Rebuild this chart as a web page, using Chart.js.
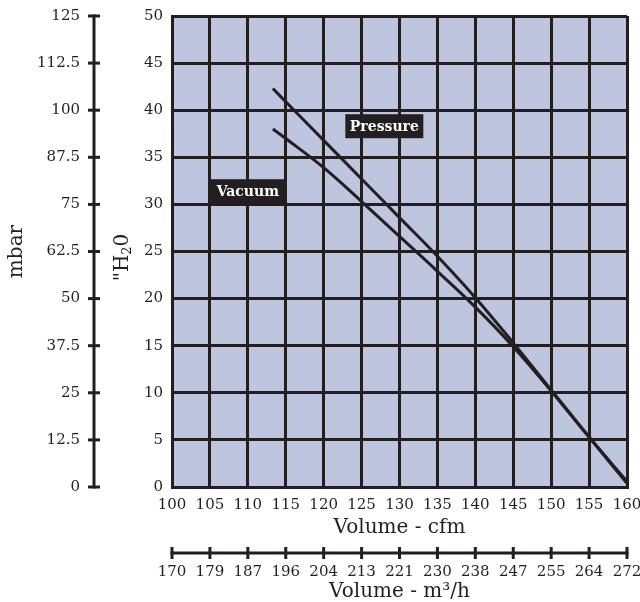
<!DOCTYPE html>
<html><head><meta charset="utf-8">
<script src="https://cdn.jsdelivr.net/npm/chart.js@4.4.1/dist/chart.umd.min.js"></script>
<style>html,body{margin:0;padding:0;background:#fff}canvas{display:block}</style>
</head><body>
<canvas id="c" width="640" height="602"></canvas>
<script>
// ---- data ----
const cfmPoints    = [113.3, 115, 120, 125, 130, 135, 140, 145, 150, 155, 160];
const pressureH2O  = [42.3, 40.9, 36.8, 32.7, 28.6, 24.5, 20.1, 15.3, 10.3, 5.3, 0.4];
const vacuumH2O    = [38.0, 37.0, 33.9, 30.3, 26.6, 22.9, 19.1, 14.9, 10.2, 5.3, 0.6];
const cfmRange     = [100, 160];
const cfmStep      = 5;
const h2oRange     = [0, 50];
const h2oStep      = 5;
const mbarRange    = [0, 125];
const mbarStep     = 12.5;
const m3hLabels    = ['170','179','187','196','204','213','221','230','238','247','255','264','272'];
const labelTexts   = ['Pressure', 'Vacuum'];
const labelCfm     = [128.0, 110.0];
const labelH2O     = [38.3, 31.4];

// ---- styling ----
const INK = '#231F20';
const PLOT_BG = '#BDC5DF';
const FONT = "'DejaVu Serif', serif";
Chart.defaults.color = INK;
Chart.defaults.font.family = FONT;

const pts = arr => cfmPoints.map((x, i) => ({x, y: arr[i]}));

const customPlugin = {
  id: 'custom',
  beforeDraw(chart) {
    const {ctx, chartArea: a} = chart;
    ctx.save();
    ctx.fillStyle = PLOT_BG;
    ctx.fillRect(a.left, a.top, a.right - a.left, a.bottom - a.top);
    ctx.restore();
  },
  afterDraw(chart) {
    const ctx = chart.ctx;
    const yM = chart.scales.yM, x2 = chart.scales.x2, y = chart.scales.y;
    ctx.save();
    ctx.strokeStyle = INK; ctx.lineWidth = 3; ctx.lineCap = 'butt';
    // mbar axis line + ticks
    const ax = yM.right - 6;
    ctx.beginPath();
    ctx.moveTo(ax, yM.getPixelForValue(mbarRange[1]) - 1.5);
    ctx.lineTo(ax, yM.getPixelForValue(mbarRange[0]) + 1.5);
    ctx.stroke();
    yM.ticks.forEach(t => {
      const py = yM.getPixelForValue(t.value);
      ctx.beginPath(); ctx.moveTo(ax - 6, py); ctx.lineTo(ax + 6, py); ctx.stroke();
    });
    // m3/h axis line + ticks
    const ay = x2.top + 14;
    ctx.beginPath();
    ctx.moveTo(x2.getPixelForValue(cfmRange[0]) - 1.5, ay);
    ctx.lineTo(x2.getPixelForValue(cfmRange[1]) + 1.5, ay);
    ctx.stroke();
    x2.ticks.forEach(t => {
      const px = x2.getPixelForValue(t.value);
      ctx.beginPath(); ctx.moveTo(px, ay - 6); ctx.lineTo(px, ay + 6); ctx.stroke();
    });
    // "H2O title
    ctx.fillStyle = INK;
    ctx.translate(y.left + 23, (y.top + y.bottom) / 2 + 6);
    ctx.rotate(-Math.PI / 2);
    ctx.textBaseline = 'middle';
    ctx.textAlign = 'left';
    const big = "20px " + FONT, small = "13px " + FONT;
    ctx.font = big; const w1 = ctx.measureText('"H').width;
    ctx.font = small; const w2 = ctx.measureText('2').width;
    ctx.font = big; const w3 = ctx.measureText('0').width;
    let sx = -(w1 + w2 + w3) / 2;
    ctx.font = big; ctx.fillText('"H', sx, 0); sx += w1;
    ctx.font = small; ctx.fillText('2', sx, 5); sx += w2;
    ctx.font = big; ctx.fillText('0', sx, 0);
    ctx.restore();
  },
  afterDatasetsDraw(chart) {
    const ctx = chart.ctx;
    const x = chart.scales.x, y = chart.scales.y;
    ctx.save();
    labelTexts.forEach((t, i) => {
      const px = x.getPixelForValue(labelCfm[i]);
      const py = y.getPixelForValue(labelH2O[i]);
      ctx.fillStyle = INK;
      ctx.fillRect(px - 39, py - 12, 78, 24);
      ctx.fillStyle = '#ffffff';
      ctx.font = "bold 14px " + FONT;
      ctx.textAlign = 'center'; ctx.textBaseline = 'middle';
      ctx.fillText(t, px, py + 1);
    });
    ctx.restore();
  }
};

const gridOpts = {color: INK, lineWidth: 3, drawTicks: false};
const tickFont = {size: 15, lineHeight: 1.2};

new Chart(document.getElementById('c'), {
  type: 'line',
  data: {
    datasets: [
      {label: 'Pressure', data: pts(pressureH2O), borderColor: INK, borderWidth: 3,
       pointRadius: 0, tension: 0.4, xAxisID: 'x', yAxisID: 'y'},
      {label: 'Vacuum', data: pts(vacuumH2O), borderColor: INK, borderWidth: 3,
       pointRadius: 0, tension: 0.4, xAxisID: 'x', yAxisID: 'y'}
    ]
  },
  options: {
    responsive: false,
    animation: false,
    layout: {padding: {top: 16, right: 13, left: 0, bottom: 0}},
    plugins: {legend: {display: false}, tooltip: {enabled: false}},
    scales: {
      x: {
        type: 'linear', position: 'bottom', weight: 0,
        min: cfmRange[0], max: cfmRange[1],
        ticks: {stepSize: cfmStep, padding: 9, font: tickFont, maxRotation: 0, autoSkip: false},
        grid: gridOpts,
        border: {color: INK, width: 3},
        title: {display: true, text: 'Volume - cfm', font: {size: 20, lineHeight: 1}, padding: {top: 0, bottom: 1.5}},
        afterFit: s => { s.height = 52; s.paddingRight = 13; s.paddingLeft = 0; }
      },
      x2: {
        type: 'linear', position: 'bottom', weight: 1,
        min: cfmRange[0], max: cfmRange[1],
        ticks: {stepSize: cfmStep, padding: 24, font: tickFont, maxRotation: 0, autoSkip: false,
                callback: (v, i) => m3hLabels[i]},
        grid: {display: false, drawOnChartArea: false, drawTicks: false},
        border: {display: false},
        title: {display: true, text: 'Volume - m³/h', font: {size: 20, lineHeight: 1}, padding: {top: 0, bottom: 0}},
        afterFit: s => { s.height = 63; s.paddingRight = 13; s.paddingLeft = 0; }
      },
      y: {
        type: 'linear', position: 'left', weight: 0,
        min: h2oRange[0], max: h2oRange[1],
        ticks: {stepSize: h2oStep, padding: 9, font: tickFont},
        grid: gridOpts,
        border: {color: INK, width: 3},
        afterFit: s => { s.width = 72; s.paddingTop = 0; s.paddingBottom = 0; }
      },
      yM: {
        type: 'linear', position: 'left', weight: 1,
        min: mbarRange[0], max: mbarRange[1],
        ticks: {stepSize: mbarStep, padding: 20, font: tickFont, callback: v => String(v)},
        grid: {display: false, drawOnChartArea: false, drawTicks: false},
        border: {display: false},
        title: {display: true, text: 'mbar', font: {size: 20, lineHeight: 1}, padding: {top: 7, bottom: 0}},
        afterFit: s => { s.width = 100; s.paddingTop = 0; s.paddingBottom = 0; }
      }
    }
  },
  plugins: [customPlugin]
});
</script>
</body></html>
